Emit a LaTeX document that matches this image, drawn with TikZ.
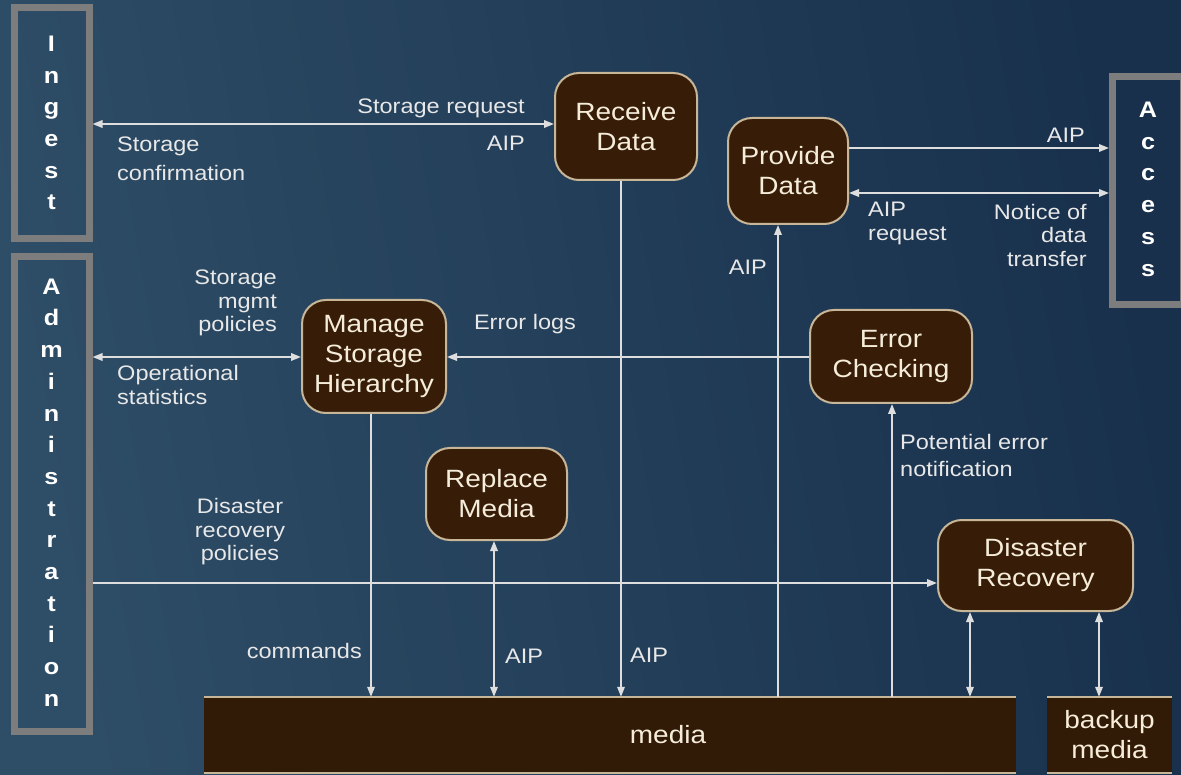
\documentclass[tikz,border=0pt]{standalone}
\usepackage{fontspec}
\setmainfont{Liberation Sans}[FakeStretch=1.12]
\usetikzlibrary{arrows.meta}
\definecolor{bgL}{RGB}{46,77,102}
\definecolor{bgR}{RGB}{24,48,76}
\definecolor{brownfill}{RGB}{55,29,8}
\definecolor{mediafill}{RGB}{50,27,6}
\definecolor{tanline}{RGB}{200,182,152}
\definecolor{cream}{RGB}{245,236,218}
\definecolor{boxgray}{RGB}{125,125,125}
\definecolor{linegray}{RGB}{222,222,222}
\definecolor{labeltext}{RGB}{232,232,232}
\tikzset{
  proc/.style={draw=tanline, line width=2pt, fill=brownfill, rounded corners=24pt,
    text=cream, font=\fontsize{25}{30}\selectfont, align=center, inner sep=0pt},
  extbox/.style={draw=boxgray, line width=7pt, align=center, text=white,
    font=\bfseries\fontsize{22.5}{31.7}\selectfont, inner sep=0pt},
  store/.style={fill=mediafill, draw=none, text=cream, font=\fontsize{25}{30}\selectfont,
    align=center, inner sep=0pt},
  conn/.style={draw=linegray, line width=1.8pt},
  lbl/.style={text=labeltext, font=\fontsize{21}{23.5}\selectfont, inner sep=0pt},
  >={Triangle[length=10pt,width=7.5pt]}
}
\begin{document}
\begin{tikzpicture}[x=1pt,y=-1pt]
\useasboundingbox (0,0) rectangle (1181,775);
\shade[left color=bgL, right color=bgR, shading angle=100] (0,0) rectangle (1181,775);

% external entities
\node[extbox, minimum width=75pt, minimum height=231pt] (ingest) at (51.5,123) {I\\n\\g\\e\\s\\t};
\node[extbox, minimum width=75pt, minimum height=474pt] (admin) at (51.5,494)
  {\raisebox{8pt}{\begin{tabular}{@{}c@{}}A\\d\\m\\i\\n\\i\\s\\t\\r\\a\\t\\i\\o\\n\end{tabular}}};
\node[extbox, minimum width=71pt, minimum height=228pt] (access) at (1148,190.5)
  {\raisebox{-13pt}{\begin{tabular}{@{}c@{}}A\\c\\c\\e\\s\\s\end{tabular}}};

% processes
\node[proc, minimum width=142pt, minimum height=107pt] (recv) at (626,126.5) {Receive\\Data};
\node[proc, minimum width=120pt, minimum height=106pt] (prov) at (788,171) {Provide\\Data};
\node[proc, minimum width=144pt, minimum height=113pt] (manage) at (374,356.5) {Manage\\Storage\\Hierarchy};
\node[proc, minimum width=162pt, minimum height=93pt] (err) at (891,356.5) {Error\\Checking};
\node[proc, minimum width=141pt, minimum height=92pt] (repl) at (496.5,494) {Replace\\Media};
\node[proc, minimum width=195pt, minimum height=91pt] (dis) at (1035.5,565.5) {Disaster\\Recovery};

% stores
\node[store, minimum width=812pt, minimum height=76pt] (media) at (610,735) {\hspace{116pt}media};
\node[store, minimum width=125pt, minimum height=76pt] (backup) at (1109.5,735) {backup\\media};
\draw[tanline, line width=2pt] (media.north west) -- (media.north east)
  (media.south west) -- (media.south east)
  (backup.north west) -- (backup.north east)
  (backup.south west) -- (backup.south east);

% connectors
\draw[conn,<->] (ingest.east |- 0,124) -- (recv.west |- 0,124);
\draw[conn,->] (621,0 |- recv.south) -- (621,0 |- media.north);
\draw[conn,->] (prov.east |- 0,148) -- (access.west |- 0,148);
\draw[conn,<->] (prov.east |- 0,193) -- (access.west |- 0,193);
\draw[conn,->] (778,0 |- media.north) -- (778,0 |- prov.south);
\draw[conn,<->] (admin.east |- 0,357) -- (manage.west |- 0,357);
\draw[conn,->] (err.west |- 0,357) -- (manage.east |- 0,357);
\draw[conn,->] (371,0 |- manage.south) -- (371,0 |- media.north);
\draw[conn,<->] (494,0 |- repl.south) -- (494,0 |- media.north);
\draw[conn,->] (892,0 |- media.north) -- (892,0 |- err.south);
\draw[conn,->] (admin.east |- 0,583) -- (dis.west |- 0,583);
\draw[conn,<->] (970,0 |- dis.south) -- (970,0 |- media.north);
\draw[conn,<->] (1099,0 |- dis.south) -- (1099,0 |- backup.north);

% labels
\node[lbl, anchor=east] (l1) at (525,108) {Storage request};
\node[lbl, anchor=east] (l2) at (525,143) {AIP};
\node[lbl, anchor=west, align=left, font=\fontsize{21}{29}\selectfont] (l3) at (117,158.5) {Storage\\confirmation};
\node[lbl, anchor=east] (l4) at (1085,135) {AIP};
\node[lbl, anchor=west, align=left] (l5) at (868,223.5) {AIP\\request};
\node[lbl, anchor=east, align=right] (l6) at (1087,235) {Notice of\\data\\transfer};
\node[lbl, anchor=east] (l7) at (767,267) {AIP};
\node[lbl, anchor=east, align=right] (l8) at (277,303) {Storage\\mgmt\\policies};
\node[lbl, anchor=west, align=left] (l9) at (117,385) {Operational\\statistics};
\node[lbl] (l10) at (525,324) {Error logs};
\node[lbl, anchor=east] (l11) at (362,651) {commands};
\node[lbl, anchor=west] (l12) at (505,656) {AIP};
\node[lbl, anchor=west] (l13) at (630,655) {AIP};
\node[lbl, anchor=west, align=left, font=\fontsize{21}{27}\selectfont] (l14) at (900,455.5) {Potential error\\notification};
\node[lbl, align=center] (l15) at (240,532) {Disaster\\recovery\\policies};
\end{tikzpicture}
\end{document}
